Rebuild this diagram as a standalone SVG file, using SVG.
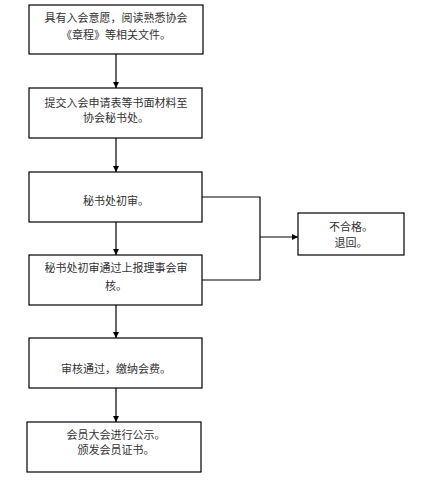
<svg xmlns="http://www.w3.org/2000/svg" width="425" height="490" viewBox="0 0 425 490">
<style>
.box{fill:#fff;stroke:#000;stroke-width:1.2}
.t{font-family:"Noto Sans CJK SC","Noto Sans",sans-serif;font-size:11px;fill:#333;text-anchor:middle}
.c{fill:none;stroke:#000;stroke-width:1.2}
</style>
<defs>
<marker id="ah" viewBox="0 0 10 10" refX="10" refY="5" markerWidth="6" markerHeight="6" markerUnits="userSpaceOnUse" orient="auto">
<path d="M0,0 L10,5 L0,10 z" fill="#000"/>
</marker>
</defs>
<rect width="425" height="490" fill="#fff"/>
<g id="connectors">
<line class="c" x1="116" y1="54" x2="116" y2="88" marker-end="url(#ah)"/>
<line class="c" x1="116" y1="138" x2="116" y2="172" marker-end="url(#ah)"/>
<line class="c" x1="116" y1="222" x2="116" y2="255" marker-end="url(#ah)"/>
<line class="c" x1="116" y1="305" x2="116" y2="338" marker-end="url(#ah)"/>
<line class="c" x1="116" y1="388" x2="116" y2="422" marker-end="url(#ah)"/>
<polyline class="c" points="202,197 260,197 260,280 202,280"/>
<line class="c" x1="260" y1="237" x2="298" y2="237" marker-end="url(#ah)"/>
</g>
<g id="n1">
<rect class="box" x="29" y="5" width="174" height="49"/>
<text class="t" x="116" y="22">具有入会意愿，阅读熟悉协会</text>
<text class="t" x="116" y="39">《章程》等相关文件。</text>
</g>
<g id="n2">
<rect class="box" x="29" y="88" width="173" height="50"/>
<text class="t" x="116" y="107">提交入会申请表等书面材料至</text>
<text class="t" x="116" y="122">协会秘书处。</text>
</g>
<g id="n3">
<rect class="box" x="29" y="172" width="173" height="50"/>
<text class="t" x="116" y="205">秘书处初审。</text>
</g>
<g id="n4">
<rect class="box" x="29" y="255" width="173" height="50"/>
<text class="t" x="116" y="272">秘书处初审通过上报理事会审</text>
<text class="t" x="116" y="290">核。</text>
</g>
<g id="n5">
<rect class="box" x="298" y="213" width="106" height="42"/>
<text class="t" x="351" y="231">不合格。</text>
<text class="t" x="351" y="247">退回。</text>
</g>
<g id="n6">
<rect class="box" x="29" y="338" width="173" height="50"/>
<text class="t" x="116" y="373">审核通过，缴纳会费。</text>
</g>
<g id="n7">
<rect class="box" x="27" y="422" width="174" height="50"/>
<text class="t" x="116" y="439">会员大会进行公示。</text>
<text class="t" x="116" y="454">颁发会员证书。</text>
</g>
</svg>
